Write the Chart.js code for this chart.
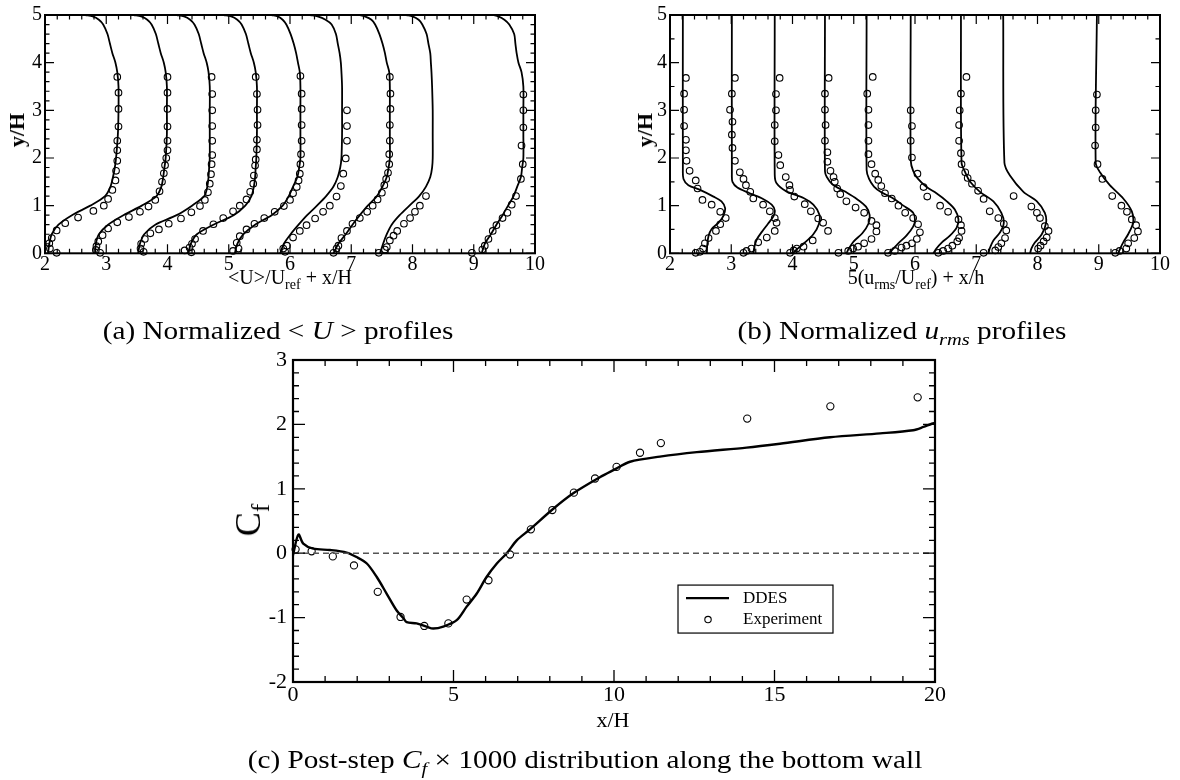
<!DOCTYPE html>
<html>
<head>
<meta charset="utf-8">
<script src="https://cdn.jsdelivr.net/npm/chart.js@4.4.1/dist/chart.umd.min.js"></script>
<style>
  body { margin: 0; background: #fff; }
  #page { position: relative; width: 1180px; height: 780px; overflow: hidden; font-family: "Liberation Serif", serif; color: #000; }
  canvas { position: absolute; }
  .t { position: absolute; white-space: nowrap; line-height: 1; }
  .t sub { font-size: 0.7em; vertical-align: -0.35em; line-height: 0; }
  .rot { transform: translate(-50%, -50%) rotate(-90deg); }
  .ctr { transform: translateX(-50%); }
  .cap { transform: translateX(-50%) scaleX(1.17); font-size: 25px; }
</style>
</head>
<body>
<div id="page">
  <canvas id="cU" width="590" height="330" style="left:0;top:0"></canvas>
  <canvas id="cR" width="580" height="330" style="left:600px;top:0"></canvas>
  <canvas id="cC" width="780" height="420" style="left:200px;top:330px"></canvas>

  <div class="t rot" style="left:17px;top:130px;font-size:22px;font-weight:bold">y/H</div>
  <div class="t ctr" style="left:290px;top:267px;font-size:20px">&lt;U&gt;/U<sub>ref</sub> + x/H</div>
  <div class="t rot" style="left:645px;top:130px;font-size:22px;font-weight:bold">y/H</div>
  <div class="t ctr" style="left:916px;top:267px;font-size:20px">5(u<sub>rms</sub>/U<sub>ref</sub>) + x/h</div>
  <div class="t rot" style="left:248px;top:520px;font-size:36px">C<sub>f</sub></div>
  <div class="t ctr" style="left:613px;top:709px;font-size:22px">x/H</div>

  <div class="t cap" style="left:278px;top:318px">(a) Normalized &lt; <i>U</i> &gt; profiles</div>
  <div class="t cap" style="left:902px;top:318px">(b) Normalized <i>u<sub>rms</sub></i> profiles</div>
  <div class="t cap" style="left:585px;top:747px">(c) Post-step <i>C<sub>f</sub></i> &times; 1000 distribution along the bottom wall</div>
</div>
<script>
/* ---- (a) mean velocity profiles: <U>/Uref + x/H against y/H ---- */
const uLineY = [0, 0.2, 0.4, 0.6, 0.8, 1.0, 1.2, 1.4, 1.6, 1.8, 2.0, 2.5, 3.0, 3.5, 3.8, 4.0, 4.2, 4.4, 4.6, 4.8, 4.9, 4.97, 5.0];
const uLineX = [
  [2.05, 2.07, 2.11, 2.22, 2.44, 2.74, 2.98, 3.07, 3.11, 3.14, 3.16, 3.19, 3.20, 3.20, 3.18, 3.15, 3.10, 3.06, 3.02, 2.95, 2.88, 2.78, 2.66],
  [2.82, 2.83, 2.88, 3.03, 3.28, 3.58, 3.82, 3.90, 3.93, 3.95, 3.97, 3.99, 3.99, 3.99, 3.97, 3.94, 3.89, 3.85, 3.81, 3.74, 3.67, 3.57, 3.45],
  [3.52, 3.55, 3.62, 3.80, 4.15, 4.40, 4.60, 4.65, 4.67, 4.68, 4.69, 4.69, 4.69, 4.69, 4.67, 4.64, 4.59, 4.55, 4.51, 4.44, 4.37, 4.27, 4.15],
  [4.34, 4.38, 4.48, 4.75, 5.08, 5.27, 5.37, 5.41, 5.43, 5.44, 5.45, 5.46, 5.46, 5.46, 5.44, 5.41, 5.36, 5.32, 5.28, 5.21, 5.14, 5.04, 4.92],
  [5.10, 5.14, 5.24, 5.43, 5.70, 5.88, 5.98, 6.05, 6.12, 6.15, 6.17, 6.17, 6.17, 6.17, 6.16, 6.13, 6.10, 6.06, 6.01, 5.94, 5.88, 5.80, 5.70],
  [5.84, 5.90, 6.01, 6.14, 6.28, 6.44, 6.59, 6.71, 6.78, 6.82, 6.84, 6.85, 6.85, 6.85, 6.84, 6.83, 6.81, 6.78, 6.75, 6.68, 6.58, 6.45, 6.33],
  [6.71, 6.79, 6.91, 7.02, 7.14, 7.27, 7.42, 7.51, 7.58, 7.61, 7.63, 7.63, 7.63, 7.63, 7.62, 7.58, 7.55, 7.51, 7.46, 7.39, 7.33, 7.22, 7.13],
  [7.47, 7.52, 7.58, 7.66, 7.79, 7.95, 8.11, 8.22, 8.29, 8.32, 8.33, 8.33, 8.33, 8.32, 8.31, 8.30, 8.29, 8.26, 8.23, 8.16, 8.10, 8.00, 7.90],
  [9.13, 9.18, 9.28, 9.37, 9.47, 9.56, 9.65, 9.71, 9.77, 9.79, 9.81, 9.81, 9.81, 9.81, 9.78, 9.73, 9.70, 9.68, 9.66, 9.58, 9.50, 9.40, 9.32]
];
const uExpX = [
  [2.19, 2.08, 2.07, 2.11, 2.19, 2.33, 2.54, 2.79, 2.96, 3.03, 3.10, 3.15, 3.16, 3.18, 3.18, 3.18, 3.20, 3.20, 3.20, 3.18],
  [2.90, 2.83, 2.84, 2.87, 2.94, 3.03, 3.18, 3.37, 3.55, 3.69, 3.80, 3.87, 3.91, 3.94, 3.96, 3.98, 4.00, 4.00, 4.00, 4.00, 4.00, 4.00],
  [3.61, 3.56, 3.57, 3.63, 3.72, 3.86, 4.02, 4.22, 4.39, 4.53, 4.61, 4.66, 4.69, 4.71, 4.72, 4.73, 4.73, 4.73, 4.73, 4.73, 4.72],
  [4.28, 4.39, 4.36, 4.40, 4.45, 4.58, 4.75, 4.91, 5.07, 5.18, 5.29, 5.35, 5.40, 5.41, 5.43, 5.44, 5.46, 5.46, 5.47, 5.47, 5.46, 5.44],
  [5.07, 5.16, 5.13, 5.18, 5.29, 5.42, 5.58, 5.75, 5.90, 6.00, 6.05, 6.11, 6.14, 6.16, 6.17, 6.18, 6.19, 6.19, 6.19, 6.19, 6.17],
  [5.92, 5.89, 5.95, 6.05, 6.16, 6.27, 6.41, 6.54, 6.65, 6.76, 6.83, 6.87, 6.91, 6.93, 6.93, 6.93],
  [6.71, 6.76, 6.79, 6.84, 6.93, 7.02, 7.14, 7.26, 7.35, 7.43, 7.50, 7.54, 7.57, 7.60, 7.62, 7.62, 7.63, 7.63, 7.64, 7.64, 7.63],
  [7.45, 7.55, 7.58, 7.63, 7.69, 7.75, 7.86, 7.96, 8.04, 8.12, 8.22],
  [8.97, 9.14, 9.18, 9.24, 9.31, 9.37, 9.47, 9.55, 9.62, 9.69, 9.77, 9.80, 9.78, 9.81, 9.81, 9.81]
];
const uExpY = [
  [0.01, 0.10, 0.21, 0.32, 0.48, 0.63, 0.75, 0.89, 1.00, 1.14, 1.33, 1.53, 1.73, 1.94, 2.16, 2.36, 2.66, 3.03, 3.37, 3.70],
  [0.01, 0.07, 0.15, 0.25, 0.38, 0.52, 0.65, 0.76, 0.87, 0.98, 1.12, 1.30, 1.50, 1.68, 1.85, 2.00, 2.16, 2.36, 2.66, 3.03, 3.37, 3.70],
  [0.03, 0.10, 0.20, 0.30, 0.42, 0.50, 0.62, 0.73, 0.86, 0.99, 1.12, 1.28, 1.46, 1.66, 1.87, 2.06, 2.36, 2.67, 3.00, 3.34, 3.70],
  [0.06, 0.02, 0.12, 0.20, 0.30, 0.47, 0.61, 0.74, 0.88, 1.00, 1.13, 1.29, 1.46, 1.63, 1.84, 1.97, 2.18, 2.38, 2.69, 3.01, 3.34, 3.70],
  [0.05, 0.10, 0.22, 0.36, 0.50, 0.62, 0.74, 0.87, 0.99, 1.12, 1.26, 1.39, 1.53, 1.67, 1.87, 2.08, 2.36, 2.69, 3.03, 3.35, 3.72],
  [0.03, 0.10, 0.16, 0.33, 0.47, 0.59, 0.73, 0.87, 1.00, 1.19, 1.41, 1.67, 1.99, 2.36, 2.67, 3.00],
  [0.01, 0.10, 0.16, 0.32, 0.47, 0.62, 0.74, 0.87, 1.00, 1.13, 1.27, 1.43, 1.56, 1.69, 1.87, 2.08, 2.36, 2.69, 3.03, 3.35, 3.70],
  [0.01, 0.08, 0.13, 0.27, 0.37, 0.47, 0.62, 0.74, 0.87, 1.00, 1.20],
  [0.01, 0.08, 0.16, 0.30, 0.47, 0.59, 0.74, 0.85, 1.02, 1.20, 1.56, 1.87, 2.26, 2.64, 3.00, 3.33]
];

/* ---- (b) rms profiles: 5(urms/Uref) + x/h against y/H ---- */
const rmsLineX = [
  [2.60, 2.61, 2.63, 2.68, 2.79, 2.87, 2.90, 2.84, 2.71, 2.49, 2.30, 2.22, 2.21, 2.21],
  [3.36, 3.38, 3.42, 3.50, 3.60, 3.69, 3.71, 3.66, 3.52, 3.30, 3.10, 3.02, 3.01, 3.01],
  [4.01, 4.06, 4.18, 4.34, 4.43, 4.44, 4.34, 4.18, 3.90, 3.74, 3.71, 3.71],
  [4.88, 4.92, 5.00, 5.14, 5.24, 5.26, 5.20, 5.05, 4.85, 4.65, 4.56, 4.53, 4.53],
  [5.57, 5.62, 5.72, 5.86, 5.97, 6.00, 5.97, 5.81, 5.62, 5.45, 5.33, 5.25, 5.21, 5.21],
  [6.30, 6.35, 6.44, 6.57, 6.68, 6.71, 6.65, 6.52, 6.35, 6.19, 6.05, 5.97, 5.93, 5.93],
  [7.20, 7.22, 7.28, 7.39, 7.45, 7.41, 7.28, 7.06, 6.90, 6.82, 6.76, 6.75],
  [7.88, 7.90, 7.96, 8.07, 8.14, 8.12, 7.99, 7.77, 7.55, 7.46, 7.44],
  [9.32, 9.35, 9.40, 9.48, 9.56, 9.54, 9.40, 9.18, 9.02, 8.95, 8.97]
];
const rmsLineY = [
  [0, 0.20, 0.37, 0.51, 0.64, 0.78, 0.95, 1.09, 1.19, 1.33, 1.43, 1.56, 1.77, 5],
  [0, 0.15, 0.30, 0.45, 0.62, 0.78, 0.90, 1.02, 1.14, 1.26, 1.38, 1.50, 1.65, 5],
  [0, 0.07, 0.20, 0.40, 0.61, 0.81, 1.02, 1.16, 1.30, 1.47, 1.65, 5],
  [0, 0.10, 0.25, 0.42, 0.62, 0.80, 0.98, 1.14, 1.30, 1.45, 1.60, 1.72, 5],
  [0, 0.06, 0.20, 0.37, 0.56, 0.70, 0.85, 1.00, 1.17, 1.28, 1.40, 1.56, 1.75, 5],
  [0, 0.10, 0.23, 0.37, 0.54, 0.71, 0.92, 1.09, 1.26, 1.39, 1.56, 1.73, 1.95, 5],
  [0, 0.10, 0.27, 0.44, 0.64, 0.85, 1.09, 1.29, 1.50, 1.70, 1.90, 5],
  [0, 0.10, 0.23, 0.40, 0.64, 0.85, 1.09, 1.29, 1.63, 1.90, 5],
  [0, 0.10, 0.23, 0.40, 0.64, 0.88, 1.15, 1.43, 1.70, 1.90, 5]
];
const rmsExpX = [
  [2.42, 2.49, 2.54, 2.57, 2.63, 2.75, 2.82, 2.91, 2.82, 2.68, 2.53, 2.45, 2.42, 2.32, 2.27, 2.26, 2.26, 2.23, 2.23, 2.23, 2.26],
  [3.20, 3.25, 3.33, 3.44, 3.58, 3.71, 3.74, 3.71, 3.63, 3.52, 3.36, 3.31, 3.24, 3.20, 3.14, 3.06, 3.02, 3.01, 3.02, 2.98, 3.01, 3.06],
  [3.96, 4.02, 4.07, 4.18, 4.33, 4.58, 4.50, 4.42, 4.30, 4.20, 4.03, 3.96, 3.95, 3.89, 3.80, 3.77, 3.71, 3.71, 3.73, 3.73, 3.79],
  [4.75, 4.91, 4.99, 5.07, 5.17, 5.29, 5.37, 5.37, 5.29, 5.17, 5.03, 4.88, 4.78, 4.73, 4.69, 4.67, 4.62, 4.57, 4.57, 4.53, 4.54, 4.53, 4.53, 4.59],
  [5.56, 5.67, 5.78, 5.86, 5.95, 6.03, 6.08, 6.05, 5.97, 5.84, 5.73, 5.62, 5.51, 5.45, 5.40, 5.35, 5.29, 5.24, 5.24, 5.24, 5.24, 5.22, 5.31],
  [6.38, 6.46, 6.54, 6.61, 6.69, 6.72, 6.76, 6.75, 6.71, 6.54, 6.41, 6.20, 6.14, 6.04, 5.95, 5.93, 5.95, 5.93],
  [7.12, 7.31, 7.36, 7.41, 7.47, 7.49, 7.45, 7.36, 7.22, 7.12, 7.03, 6.93, 6.86, 6.82, 6.76, 6.75, 6.72, 6.72, 6.73, 6.75, 6.84],
  [8.01, 8.05, 8.10, 8.15, 8.18, 8.12, 8.04, 7.99, 7.90, 7.61],
  [9.27, 9.34, 9.45, 9.48, 9.58, 9.64, 9.61, 9.54, 9.46, 9.37, 9.22, 9.06, 8.98, 8.94, 8.95, 8.95, 8.97]
];
const rmsExpY = [
  [0.01, 0.03, 0.10, 0.21, 0.32, 0.47, 0.61, 0.74, 0.87, 1.02, 1.12, 1.36, 1.53, 1.73, 1.94, 2.16, 2.38, 2.67, 3.01, 3.35, 3.68],
  [0.01, 0.05, 0.10, 0.23, 0.33, 0.47, 0.64, 0.74, 0.88, 1.02, 1.15, 1.29, 1.43, 1.56, 1.70, 1.94, 2.21, 2.49, 2.76, 3.01, 3.35, 3.68],
  [0.01, 0.06, 0.10, 0.14, 0.27, 0.47, 0.64, 0.73, 0.88, 1.03, 1.19, 1.33, 1.43, 1.60, 1.85, 2.06, 2.35, 2.69, 3.00, 3.34, 3.68],
  [0.01, 0.05, 0.10, 0.14, 0.21, 0.30, 0.46, 0.59, 0.68, 0.85, 0.96, 1.09, 1.24, 1.36, 1.50, 1.60, 1.73, 1.92, 2.12, 2.36, 2.69, 3.01, 3.35, 3.68],
  [0.01, 0.05, 0.12, 0.16, 0.21, 0.30, 0.44, 0.61, 0.74, 0.85, 1.00, 1.15, 1.26, 1.41, 1.54, 1.67, 1.87, 2.08, 2.36, 2.69, 3.01, 3.35, 3.70],
  [0.01, 0.05, 0.10, 0.16, 0.25, 0.32, 0.47, 0.59, 0.71, 0.87, 1.00, 1.19, 1.39, 1.67, 2.01, 2.36, 2.67, 3.00],
  [0.01, 0.06, 0.13, 0.21, 0.32, 0.48, 0.62, 0.74, 0.88, 1.14, 1.31, 1.46, 1.58, 1.70, 1.87, 2.10, 2.36, 2.69, 3.00, 3.35, 3.70],
  [0.10, 0.16, 0.25, 0.33, 0.47, 0.57, 0.74, 0.85, 0.98, 1.20],
  [0.01, 0.05, 0.10, 0.21, 0.32, 0.46, 0.59, 0.71, 0.87, 1.00, 1.20, 1.56, 1.87, 2.26, 2.64, 3.00, 3.33]
];

/* ---- (c) skin friction Cf x 1000 along the bottom wall ---- */
const cfDdesX = [0, 0.17, 0.32, 0.63, 1.15, 1.67, 1.98, 2.30, 2.61, 2.92, 3.23, 3.44, 3.54, 3.85, 4.16, 4.37, 4.68, 5.10, 5.41, 5.72,
                 6.03, 6.35, 6.66, 6.97, 7.38, 8.11, 8.73, 9.56, 9.98, 10.50, 11.43, 12.58, 14.13, 15.17, 16.73, 18.29, 19.32, 19.64, 19.9, 20.0];
const cfDdesY = [-0.03, 0.29, 0.15, 0.07, 0.05, 0.01, -0.06, -0.16, -0.37, -0.63, -0.89, -1.01, -1.07, -1.09, -1.14, -1.17, -1.14, -1.04, -0.83, -0.63,
                 -0.37, -0.16, 0.0, 0.20, 0.37, 0.69, 0.93, 1.18, 1.29, 1.42, 1.50, 1.57, 1.64, 1.70, 1.80, 1.86, 1.91, 1.96, 2.01, 2.02];
const cfExpX = [0.08, 0.58, 1.24, 1.90, 2.64, 3.35, 4.09, 4.84, 5.41, 6.09, 6.76, 7.41, 8.08, 8.75, 9.41, 10.08, 10.81, 11.46, 14.15, 16.74, 19.46];
const cfExpY = [0.06, 0.03, -0.05, -0.19, -0.60, -0.99, -1.13, -1.09, -0.72, -0.42, -0.02, 0.37, 0.67, 0.94, 1.16, 1.34, 1.56, 1.71, 2.09, 2.28, 2.42];
const cfZeroX = [0, 20];
const cfZeroY = [0, 0];
const cfLabels = ['DDES', 'Experiment'];

const SERIF = '"Liberation Serif", "Times New Roman", serif';
const pts = (xs, ys) => xs.map((v, i) => ({ x: v, y: ys[i] }));

function lineSet(data, width) {
  return { data, showLine: true, borderColor: '#000', borderWidth: width, pointRadius: 0, tension: 0.3, fill: false };
}
function circleSet(data, r) {
  return { data, showLine: false, pointRadius: r, pointBorderWidth: 1.1, pointBorderColor: '#000',
           pointBackgroundColor: 'rgba(0,0,0,0)', clip: false };
}

// closed frame with inward major/minor ticks on all four sides
const frameTicks = {
  id: 'frameTicks',
  afterDatasetsDraw(chart, args, o) {
    const { ctx, chartArea: a, scales: { x, y } } = chart;
    const isMajor = (list, v) => list.some(m => Math.abs(m - v) < 1e-6);
    const mx = x.ticks.map(t => t.value), my = y.ticks.map(t => t.value);
    ctx.save();
    ctx.strokeStyle = '#000';
    ctx.lineWidth = o.tickWidth;
    ctx.beginPath();
    const nx = Math.round((x.max - x.min) / o.xMinor);
    for (let i = 0; i <= nx; i++) {
      const v = x.min + i * o.xMinor;
      const len = isMajor(mx, v) ? o.major : o.minor;
      const p = x.getPixelForValue(v);
      ctx.moveTo(p, a.bottom); ctx.lineTo(p, a.bottom - len);
      ctx.moveTo(p, a.top); ctx.lineTo(p, a.top + len);
    }
    const ny = Math.round((y.max - y.min) / o.yMinor);
    for (let i = 0; i <= ny; i++) {
      const v = y.min + i * o.yMinor;
      const len = isMajor(my, v) ? o.major : o.minor;
      const p = y.getPixelForValue(v);
      ctx.moveTo(a.left, p); ctx.lineTo(a.left + len, p);
      ctx.moveTo(a.right, p); ctx.lineTo(a.right - len, p);
    }
    ctx.stroke();
    ctx.lineWidth = o.frameWidth;
    ctx.strokeRect(a.left, a.top, a.right - a.left, a.bottom - a.top);
    ctx.restore();
  }
};

// boxed legend inside the Cf plot
const cfLegend = {
  id: 'cfLegend',
  afterDraw(chart, args, o) {
    if (!o.show) return;
    const { ctx, chartArea: a } = chart;
    const w = a.right - a.left, h = a.bottom - a.top;
    const bx = a.left + o.box[0] * w, by = a.top + o.box[1] * h;
    const bw = o.box[2] * w, bh = o.box[3] * h;
    const line = chart.data.datasets[1], dots = chart.data.datasets[2];
    ctx.save();
    ctx.fillStyle = '#fff';
    ctx.fillRect(bx, by, bw, bh);
    ctx.strokeStyle = '#000';
    ctx.lineWidth = 1.2;
    ctx.strokeRect(bx, by, bw, bh);
    ctx.lineWidth = line.borderWidth;
    ctx.beginPath();
    ctx.moveTo(bx + 8, by + 13); ctx.lineTo(bx + 51, by + 13);
    ctx.stroke();
    ctx.lineWidth = dots.pointBorderWidth;
    ctx.beginPath();
    ctx.arc(bx + 30, by + 34.5, 3.2, 0, Math.PI * 2);
    ctx.stroke();
    ctx.fillStyle = '#000';
    ctx.font = '17px ' + SERIF;
    ctx.textBaseline = 'middle';
    ctx.fillText(o.labels[0], bx + 65, by + 13);
    ctx.fillText(o.labels[1], bx + 65, by + 34);
    ctx.restore();
  }
};

function makeChart(id, datasets, o) {
  return new Chart(document.getElementById(id), {
    type: 'scatter',
    data: { datasets },
    options: {
      responsive: false,
      animation: false,
      devicePixelRatio: 1,
      layout: { padding: o.pad },
      plugins: {
        legend: { display: false },
        tooltip: { enabled: false },
        frameTicks: o.frame,
        cfLegend: o.legend || { show: false }
      },
      scales: {
        x: {
          type: 'linear', min: o.x[0], max: o.x[1],
          afterFit: s => { s.height = o.xh; },
          grid: { display: false, drawTicks: false },
          border: { display: false },
          ticks: { stepSize: o.x[2], color: '#000', font: { family: SERIF, size: o.fs }, padding: o.xpad, maxRotation: 0 }
        },
        y: {
          type: 'linear', min: o.y[0], max: o.y[1],
          afterFit: s => { s.width = o.yw; },
          grid: { display: false, drawTicks: false },
          border: { display: false },
          ticks: { stepSize: o.y[2], color: '#000', font: { family: SERIF, size: o.fs }, padding: o.ypad }
        }
      }
    },
    plugins: [frameTicks, cfLegend]
  });
}

// (a)
const uSets = [];
uLineX.forEach(xs => uSets.push(lineSet(pts(xs, uLineY), 1.8)));
uExpX.forEach((xs, k) => uSets.push(circleSet(pts(xs, uExpY[k]), 3.3)));
makeChart('cU', uSets, {
  pad: { left: 0, top: 9.3, right: 55, bottom: 46.7 },
  x: [2, 10, 1], y: [0, 5, 1], xh: 30, yw: 45, fs: 20, xpad: -1, ypad: 3,
  frame: { xMinor: 0.2, yMinor: 0.2, major: 9, minor: 4.5, tickWidth: 1.2, frameWidth: 2 }
});

// (b)
const rSets = [];
rmsLineX.forEach((xs, k) => rSets.push(lineSet(pts(xs, rmsLineY[k]), 1.8)));
rmsExpX.forEach((xs, k) => rSets.push(circleSet(pts(xs, rmsExpY[k]), 3.3)));
makeChart('cR', rSets, {
  pad: { left: 25, top: 9.3, right: 20, bottom: 46.7 },
  x: [2, 10, 1], y: [0, 5, 1], xh: 30, yw: 45, fs: 20, xpad: -1, ypad: 3,
  frame: { xMinor: 0.2, yMinor: 0.5, major: 9, minor: 4.5, tickWidth: 1.2, frameWidth: 2 }
});

// (c)
const zero = lineSet(pts(cfZeroX, cfZeroY), 1.4);
zero.borderColor = '#555';
zero.borderDash = [6, 4];
zero.tension = 0;
const ddes = lineSet(pts(cfDdesX, cfDdesY), 2.4);
const expC = circleSet(pts(cfExpX, cfExpY), 3.6);
makeChart('cC', [zero, ddes, expC], {
  pad: { left: 48, top: 30, right: 45, bottom: 38 },
  x: [0, 20, 5], y: [-2, 3, 1], xh: 30, yw: 45, fs: 22, xpad: 0, ypad: 6,
  frame: { xMinor: 1, yMinor: 0.2, major: 12, minor: 6, tickWidth: 1.3, frameWidth: 2.2 },
  legend: { show: true, box: [0.5997, 0.699, 0.2414, 0.149], labels: cfLabels }
});
</script>
</body>
</html>
